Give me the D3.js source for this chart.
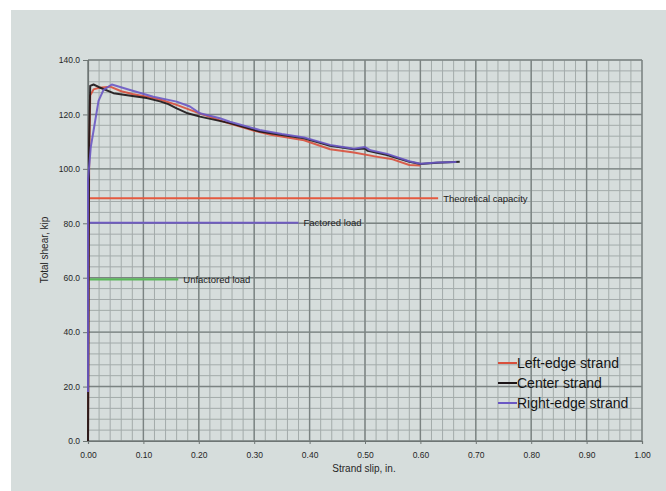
<!DOCTYPE html>
<html>
<head>
<meta charset="utf-8">
<script src="https://cdn.jsdelivr.net/npm/d3@7"></script>
<style>
  html, body { margin: 0; padding: 0; background: #fff; }
  svg { display: block; }
</style>
</head>
<body>
<div id="chart"></div>
<script>
// strand test data: slip (in.) vs total shear (kip)
const leftSlip  = [0, 0.002, 0.004, 0.01, 0.02, 0.04, 0.06, 0.08, 0.106, 0.13, 0.16, 0.2, 0.25, 0.3, 0.33, 0.39, 0.437, 0.48, 0.52, 0.55, 0.58, 0.6];
const leftShear = [0, 100, 127, 129.2, 129.8, 130.2, 128.5, 127.5, 126.5, 125.5, 123.5, 120.5, 117, 114, 112.5, 110.5, 107.2, 106, 104.5, 103.5, 101.4, 101.2];

const centerSlip  = [0, 0.002, 0.004, 0.01, 0.02, 0.046, 0.08, 0.106, 0.13, 0.145, 0.16, 0.18, 0.202, 0.256, 0.31, 0.347, 0.39, 0.437, 0.48, 0.5, 0.505, 0.54, 0.58, 0.6, 0.63, 0.671];
const centerShear = [0, 110, 130.5, 131, 130, 127.8, 126.8, 126, 124.8, 123.8, 122.2, 120.4, 119.2, 116.8, 113.7, 112.5, 111.2, 108.5, 107.2, 107.5, 106.6, 105.1, 102.6, 101.8, 102.2, 102.6];

const rightSlip  = [0, 0, 0.005, 0.01, 0.019, 0.028, 0.043, 0.076, 0.118, 0.16, 0.184, 0.202, 0.238, 0.256, 0.31, 0.35, 0.39, 0.437, 0.48, 0.5, 0.51, 0.54, 0.58, 0.6, 0.63, 0.665];
const rightShear = [18, 96, 108, 114, 125, 129, 131, 129, 126.5, 124.7, 122.9, 120.4, 118.6, 117.3, 114.3, 112.8, 111.5, 108.8, 107.4, 108, 106.8, 105.5, 102.8, 101.9, 102.3, 102.5];

// reference loads
const refNames  = ['Theoretical capacity', 'Factored load', 'Unfactored load'];
const refShear  = [89.2, 80.2, 59.4];
const refSlipTo = [0.632, 0.38, 0.163];
const refColors = ['#e4593f', '#6f5cc0', '#5cb85c'];

const seriesNames  = ['Left-edge strand', 'Center strand', 'Right-edge strand'];
const seriesColors = ['#d9503c', '#1a1416', '#6a58c4'];

const xTicks = [0, 0.1, 0.2, 0.3, 0.4, 0.5, 0.6, 0.7, 0.8, 0.9, 1.0];
const yTicks = [0, 20, 40, 60, 80, 100, 120, 140];

const W = 666, H = 491;
const plot = { left: 88, right: 642, top: 60, bottom: 441 };
const font = 'Liberation Sans, Arial, sans-serif';

const svg = d3.select('#chart').append('svg')
  .attr('width', W).attr('height', H);

// grey panel with white strip at top/left
svg.append('rect').attr('x', 11).attr('y', 10).attr('width', W - 11).attr('height', H - 10)
  .attr('fill', '#d6dddc');

const x = d3.scaleLinear().domain([0, 1]).range([plot.left, plot.right]);
const y = d3.scaleLinear().domain([0, 140]).range([plot.bottom, plot.top]);

const grid = svg.append('g').attr('class', 'grid');
// minor grid
grid.selectAll('line.vmin').data(d3.range(0, 51).map(i => i * 0.02)).join('line')
  .attr('x1', d => x(d)).attr('x2', d => x(d))
  .attr('y1', plot.top).attr('y2', plot.bottom)
  .attr('stroke', '#a3abaa').attr('stroke-width', 1);
grid.selectAll('line.hmin').data(d3.range(0, 36).map(i => i * 4)).join('line')
  .attr('y1', d => y(d)).attr('y2', d => y(d))
  .attr('x1', plot.left).attr('x2', plot.right)
  .attr('stroke', '#a3abaa').attr('stroke-width', 1);
// major grid
grid.selectAll('line.vmaj').data(xTicks).join('line')
  .attr('x1', d => x(d)).attr('x2', d => x(d))
  .attr('y1', plot.top).attr('y2', plot.bottom)
  .attr('stroke', '#7b8382').attr('stroke-width', 1.4);
grid.selectAll('line.hmaj').data(yTicks).join('line')
  .attr('y1', d => y(d)).attr('y2', d => y(d))
  .attr('x1', plot.left).attr('x2', plot.right)
  .attr('stroke', '#7b8382').attr('stroke-width', 1.4);

// axes
const xAxis = svg.append('g').attr('transform', `translate(0,${plot.bottom})`)
  .call(d3.axisBottom(x).tickValues(xTicks).tickFormat(d3.format('.2f')).tickSize(3).tickPadding(8));
const yAxis = svg.append('g').attr('transform', `translate(${plot.left},0)`)
  .call(d3.axisLeft(y).tickValues(yTicks).tickFormat(d3.format('.1f')).tickSize(5).tickPadding(3));
[xAxis, yAxis].forEach(a => {
  a.select('.domain').attr('stroke', '#6e7574').attr('stroke-width', 1.2);
  a.selectAll('.tick line').attr('stroke', '#6e7574');
  a.selectAll('.tick text').attr('fill', '#262626')
    .style('font-family', font).style('font-size', '8.5px');
});

// axis titles
svg.append('text').attr('x', 364).attr('y', 472).attr('text-anchor', 'middle')
  .style('font-family', font).style('font-size', '10px')
  .attr('fill', '#262626').text('Strand slip, in.');
svg.append('text').attr('transform', 'translate(48,250) rotate(-90)').attr('text-anchor', 'middle')
  .style('font-family', font).style('font-size', '10px')
  .attr('fill', '#262626').text('Total shear, kip');

// reference load lines
const refs = refNames.map((n, i) => ({ name: n, v: refShear[i], to: refSlipTo[i], c: refColors[i] }));
const rg = svg.append('g');
rg.selectAll('line').data(refs).join('line')
  .attr('x1', x(0)).attr('x2', d => x(d.to))
  .attr('y1', d => y(d.v)).attr('y2', d => y(d.v))
  .attr('stroke', d => d.c).attr('stroke-width', 2.2);
rg.selectAll('text').data(refs).join('text')
  .attr('x', d => x(d.to) + 5).attr('y', d => y(d.v) + 3.5)
  .style('font-family', font).style('font-size', '9.5px')
  .attr('fill', '#222').text(d => d.name);

// strand curves
const series = [
  { xs: leftSlip, ys: leftShear },
  { xs: centerSlip, ys: centerShear },
  { xs: rightSlip, ys: rightShear }
].map((s, i) => ({ name: seriesNames[i], c: seriesColors[i], pts: s.xs.map((v, j) => [v, s.ys[j]]) }));

const line = d3.line().x(d => x(d[0])).y(d => y(d[1])).curve(d3.curveLinear);
svg.append('g').selectAll('path').data(series).join('path')
  .attr('d', d => line(d.pts))
  .attr('fill', 'none').attr('stroke', d => d.c).attr('stroke-width', 2)
  .attr('stroke-linejoin', 'round').attr('opacity', 0.9);

// legend
const lg = svg.append('g').attr('transform', 'translate(498,363)');
const items = lg.selectAll('g').data(series).join('g')
  .attr('transform', (d, i) => `translate(0,${i * 20})`);
items.append('line').attr('x1', 0).attr('x2', 19).attr('stroke', d => d.c).attr('stroke-width', 2);
items.append('text').attr('x', 19).attr('y', 5)
  .style('font-family', font).style('font-size', '14px')
  .attr('fill', '#151515').text(d => d.name);
</script>
</body>
</html>
